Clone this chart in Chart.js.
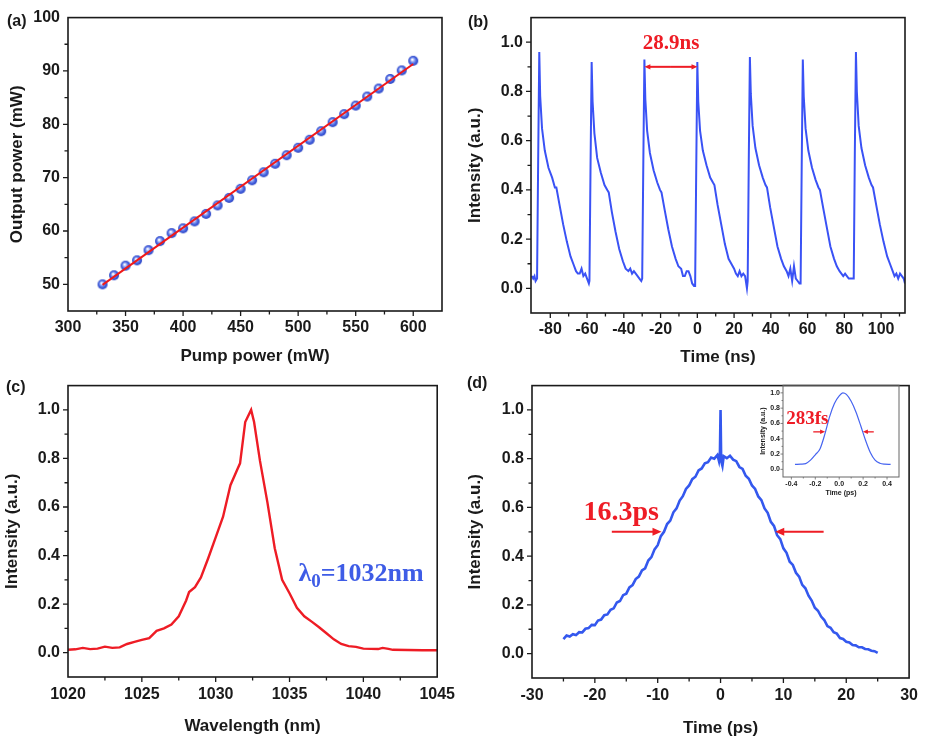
<!DOCTYPE html>
<html>
<head>
<meta charset="utf-8">
<title>Laser output characteristics</title>
<script src="https://cdn.jsdelivr.net/npm/chart.js@4.4.1/dist/chart.umd.min.js"></script>
<style>
  html, body { margin: 0; padding: 0; background: #fff; }
  #figure { position: relative; width: 926px; height: 740px; overflow: hidden; background: #fff; }
  #figure canvas { position: absolute; }
</style>
</head>
<body>
<div id="figure">
  <canvas id="chart_output_power" width="463" height="368" style="left:0;top:0"></canvas>
  <canvas id="chart_pulse_train" width="463" height="368" style="left:463px;top:0"></canvas>
  <canvas id="chart_spectrum" width="463" height="372" style="left:0;top:368px"></canvas>
  <canvas id="chart_autocorrelation" width="463" height="372" style="left:463px;top:368px"></canvas>
  <canvas id="chart_autocorrelation_inset" width="155" height="122" style="left:755px;top:378px"></canvas>
</div>
<script>
// (a) output power vs pump power
const pump_power = [330, 340, 350, 360, 370, 380, 390, 400, 410, 420, 430, 440, 450, 460, 470, 480, 490, 500, 510, 520, 530, 540, 550, 560, 570, 580, 590, 600];
const output_power = [50.0, 51.7, 53.5, 54.5, 56.4, 58.1, 59.6, 60.5, 61.8, 63.2, 64.8, 66.2, 67.9, 69.5, 71.0, 72.6, 74.2, 75.6, 77.1, 78.7, 80.4, 81.9, 83.5, 85.2, 86.7, 88.5, 90.1, 91.9];
const fit_pump = [330, 600];
const fit_output = [49.9, 91.3];

// (b) pulse train
const pulse_time = [
  -90.0, -89.3, -88.6, -88.0,
  -87.2, -86.6, -86.0, -85.5, -84.5, -83.0, -81.0, -79.0, -77.5, -76.7, -75.0, -73.0, -71.0, -69.0, -67.5, -66.0, -65.0, -64.0, -63.0, -62.0, -61.0, -60.0, -59.0,
  -58.7, -58.1, -57.5, -57.0, -56.0, -54.5, -52.5, -50.5, -49.0, -48.2, -46.5, -44.5, -42.5, -40.5, -39.0, -37.5, -36.5, -35.5, -34.5, -33.5, -32.5, -31.5, -30.5,
  -30.0, -29.4, -28.8, -28.3, -27.3, -25.8, -23.8, -21.8, -20.3, -19.5, -17.8, -15.8, -13.8, -11.8, -10.3, -8.8, -7.8, -6.8, -5.8, -4.8, -3.8, -2.8, -1.8,
  -1.2, -0.6, 0.0, 0.5, 1.5, 3.0, 5.0, 7.0, 8.5, 9.3, 11.0, 13.0, 15.0, 17.0, 18.5, 20.0, 21.0, 22.0, 23.0, 24.0, 25.0, 26.0, 27.0,
  27.4, 28.0, 28.6, 29.1, 30.1, 31.6, 33.6, 35.6, 37.1, 37.9, 39.6, 41.6, 43.6, 45.6, 47.1, 48.6, 49.6, 50.6, 51.6, 52.6, 53.6, 54.6, 55.6,
  56.2, 56.8, 57.4, 57.9, 58.9, 60.4, 62.4, 64.4, 65.9, 66.7, 68.4, 70.4, 72.4, 74.4, 75.9, 77.4, 78.4, 79.4, 80.4, 81.4, 82.4, 83.4, 84.4,
  85.1, 85.7, 86.3, 86.8, 87.8, 89.3, 91.3, 93.3, 94.8, 95.6, 97.3, 99.3, 101.3, 103.3, 104.8, 106.3, 107.3, 108.3, 109.3, 110.3, 111.3, 112.3, 113.0
];
const pulse_level = [
  0.05, 0.04, 0.05, 0.03,
  0.04, 0.52, 0.96, 0.78, 0.65, 0.56, 0.49, 0.45, 0.41, 0.41, 0.34, 0.26, 0.19, 0.13, 0.10, 0.07, 0.06, 0.06, 0.08, 0.05, 0.06, 0.04, 0.02,
  0.03, 0.50, 0.92, 0.76, 0.63, 0.53, 0.47, 0.42, 0.40, 0.39, 0.31, 0.23, 0.16, 0.11, 0.08, 0.07, 0.08, 0.06, 0.07, 0.06, 0.05, 0.04, 0.03,
  0.04, 0.50, 0.93, 0.77, 0.64, 0.55, 0.48, 0.43, 0.40, 0.39, 0.32, 0.24, 0.17, 0.12, 0.09, 0.08, 0.05, 0.05, 0.07, 0.07, 0.05, 0.02, 0.01,
  0.01, 0.48, 0.92, 0.76, 0.64, 0.56, 0.50, 0.45, 0.43, 0.42, 0.34, 0.26, 0.18, 0.12, 0.10, 0.08, 0.06, 0.05, 0.07, 0.05, 0.06, 0.05, 0.00,
  0.03, 0.52, 0.94, 0.79, 0.66, 0.57, 0.50, 0.45, 0.42, 0.41, 0.33, 0.25, 0.17, 0.12, 0.09, 0.07, 0.05, 0.08, 0.03, 0.09, 0.04, 0.03, 0.02,
  0.02, 0.50, 0.93, 0.78, 0.65, 0.56, 0.49, 0.44, 0.41, 0.40, 0.33, 0.25, 0.17, 0.12, 0.09, 0.07, 0.06, 0.05, 0.06, 0.05, 0.04, 0.04, 0.04,
  0.04, 0.55, 0.96, 0.80, 0.66, 0.57, 0.50, 0.45, 0.42, 0.41, 0.34, 0.26, 0.19, 0.13, 0.10, 0.07, 0.05, 0.06, 0.04, 0.06, 0.05, 0.04, 0.02
];

// (c) optical spectrum
const spectrum_wavelength = [1020, 1020.5, 1021, 1021.5, 1022, 1022.5, 1023, 1023.5, 1024, 1024.5, 1025, 1025.5, 1026, 1026.5, 1027, 1027.5, 1028, 1028.2, 1028.6, 1029, 1029.5, 1030, 1030.5, 1031, 1031.5, 1031.65, 1032.0, 1032.4, 1032.6, 1033, 1033.5, 1034, 1034.5, 1035, 1035.5, 1036, 1036.5, 1037, 1037.5, 1038, 1038.5, 1039, 1039.5, 1040, 1040.5, 1041, 1041.3, 1041.7, 1042, 1043, 1044, 1045];
const spectrum_intensity = [0.012, 0.014, 0.02, 0.015, 0.017, 0.025, 0.02, 0.022, 0.036, 0.045, 0.053, 0.06, 0.09, 0.10, 0.116, 0.15, 0.215, 0.25, 0.27, 0.31, 0.39, 0.475, 0.56, 0.69, 0.76, 0.78, 0.95, 1.0, 0.95, 0.79, 0.62, 0.43, 0.30, 0.245, 0.185, 0.15, 0.128, 0.105, 0.08, 0.055, 0.036, 0.027, 0.024, 0.017, 0.016, 0.015, 0.02, 0.016, 0.012, 0.011, 0.01, 0.01];

// (d) autocorrelation trace
const ac_delay = [-25, -24.5, -24, -23.5, -23, -22.5, -22, -21.5, -21, -20.5, -20, -19.5, -19, -18.5, -18, -17.5, -17, -16.5, -16, -15.5, -15, -14.5, -14, -13.5, -13, -12.5, -12, -11.5, -11, -10.5, -10, -9.5, -9, -8.5, -8, -7.5, -7, -6.5, -6, -5.5, -5, -4.5, -4, -3.5, -3, -2.5, -2, -1.5, -1, -0.5, -0.25, -0.1, 0, 0.1, 0.3, 0.5, 1, 1.5, 2, 2.5, 3, 3.5, 4, 4.5, 5, 5.5, 6, 6.5, 7, 7.5, 8, 8.5, 9, 9.5, 10, 10.5, 11, 11.5, 12, 12.5, 13, 13.5, 14, 14.5, 15, 15.5, 16, 16.5, 17, 17.5, 18, 18.5, 19, 19.5, 20, 20.5, 21, 21.5, 22, 22.5, 23, 23.5, 24, 24.5, 25];
const ac_intensity = [0.060, 0.074, 0.070, 0.080, 0.076, 0.088, 0.087, 0.102, 0.105, 0.118, 0.117, 0.136, 0.140, 0.158, 0.161, 0.180, 0.186, 0.210, 0.216, 0.240, 0.246, 0.272, 0.281, 0.306, 0.316, 0.342, 0.350, 0.382, 0.396, 0.428, 0.445, 0.482, 0.500, 0.532, 0.546, 0.580, 0.596, 0.628, 0.646, 0.676, 0.690, 0.716, 0.726, 0.752, 0.760, 0.781, 0.786, 0.805, 0.800, 0.815, 0.790, 0.820, 1.000, 0.790, 0.770, 0.810, 0.802, 0.812, 0.796, 0.790, 0.766, 0.758, 0.730, 0.718, 0.690, 0.676, 0.645, 0.630, 0.596, 0.578, 0.541, 0.524, 0.486, 0.470, 0.432, 0.414, 0.377, 0.364, 0.332, 0.316, 0.282, 0.268, 0.238, 0.218, 0.188, 0.176, 0.152, 0.138, 0.113, 0.106, 0.088, 0.082, 0.064, 0.060, 0.049, 0.046, 0.035, 0.034, 0.026, 0.026, 0.019, 0.018, 0.012, 0.010, 0.003];

// (d) inset, fine scan of the coherence spike
const inset_delay = [-0.37, -0.32, -0.28, -0.24, -0.20, -0.16, -0.12, -0.08, -0.04, 0.00, 0.03, 0.06, 0.10, 0.14, 0.18, 0.22, 0.26, 0.30, 0.34, 0.38, 0.43];
const inset_intensity = [0.065, 0.068, 0.075, 0.12, 0.19, 0.27, 0.46, 0.69, 0.86, 0.96, 1.0, 0.98, 0.89, 0.75, 0.57, 0.38, 0.22, 0.12, 0.08, 0.068, 0.065];

const RED = 'rgb(238, 28, 37)';
const BLUE = 'rgb(58, 82, 245)';
const INK = '#1a1a1a';
const SANS = "'Liberation Sans', Arial, sans-serif";
const SERIF = "'Liberation Serif', 'Times New Roman', serif";

Chart.defaults.font.family = SANS;
Chart.defaults.font.weight = 'bold';
Chart.defaults.color = INK;

const xy = (xs, ys) => xs.map((x, i) => ({ x: x, y: ys[i] }));
const on_step = (v, step) => Math.abs(v / step - Math.round(v / step)) < 1e-6;

// box round the plot area plus outward major/minor ticks
Chart.register({
    id: 'frame',
    afterDraw(chart, args, opts) {
        const { ctx, chartArea: a } = chart;
        ctx.save();
        ctx.strokeStyle = opts.color || INK;
        ctx.lineWidth = opts.width || 1.6;
        ctx.strokeRect(a.left, a.top, a.right - a.left, a.bottom - a.top);
        ctx.lineWidth = opts.tick_width || 1.3;
        ctx.beginPath();
        ['x', 'y'].forEach(id => {
            const scale = chart.scales[id];
            scale.ticks.forEach(t => {
                const px = scale.getPixelForValue(t.value);
                const len = t.label !== '' ? (opts.major || 5) : (opts.minor || 3.5);
                if (id === 'x') {
                    if (px < a.left + 1 || px > a.right - 1) return;
                    ctx.moveTo(px, a.bottom); ctx.lineTo(px, a.bottom + len);
                } else {
                    if (px < a.top + 1 || px > a.bottom - 1) return;
                    ctx.moveTo(a.left, px); ctx.lineTo(a.left - len, px);
                }
            });
        });
        ctx.stroke();
        ctx.restore();
    }
});

function axis(o) {
    return {
        type: 'linear',
        min: o.min,
        max: o.max,
        afterFit: scale => { if (scale.isHorizontal()) scale.height = o.size; else scale.width = o.size; },
        // keep only ticks that sit on the step grid, inside the fixed range
        afterBuildTicks: scale => {
            const first = Math.ceil(o.min / o.step - 1e-6), last = Math.floor(o.max / o.step + 1e-6);
            const ticks = [];
            for (let k = first; k <= last; k++) ticks.push({ value: Math.round(k * o.step * 1000) / 1000 });
            scale.ticks = ticks;
        },
        grid: { display: false, drawTicks: false },
        border: { display: false },
        ticks: {
            stepSize: o.step,
            autoSkip: false,
            maxRotation: 0,
            padding: o.pad,
            color: INK,
            font: { size: o.font || 16, weight: 'bold' },
            callback: v => on_step(v, o.major) ? (Math.abs(v) < 1e-9 ? 0 : v).toFixed(o.digits || 0) : ''
        },
        title: {
            display: true,
            text: o.title,
            color: INK,
            font: { size: o.title_size || 17, weight: 'bold' },
            padding: o.title_pad
        }
    };
}

function base_options(o) {
    return {
        responsive: false,
        animation: false,
        devicePixelRatio: 1,
        layout: { padding: { top: o.top, right: o.right, left: 0, bottom: 0 } },
        plugins: {
            legend: { display: false },
            tooltip: { enabled: false },
            frame: o.frame || {}
        },
        elements: { line: { tension: 0 }, point: { radius: 0 } },
        scales: { x: axis(o.x), y: axis(o.y) }
    };
}

function notes(id, draw) {
    return {
        id: id,
        afterDraw(chart) {
            const ctx = chart.ctx;
            ctx.save();
            draw(chart, ctx);
            ctx.restore();
        }
    };
}

function panel_letter(ctx, text, x, y) {
    ctx.font = "bold 16px " + SANS;
    ctx.fillStyle = INK;
    ctx.textAlign = 'left';
    ctx.textBaseline = 'middle';
    ctx.fillText(text, x, y);
}

function arrow(ctx, x1, y, x2, head, width) {
    const dir = Math.sign(x2 - x1);
    ctx.strokeStyle = RED;
    ctx.fillStyle = RED;
    ctx.lineWidth = width;
    ctx.beginPath();
    ctx.moveTo(x1, y);
    ctx.lineTo(x2 - dir * head * 0.8, y);
    ctx.stroke();
    ctx.beginPath();
    ctx.moveTo(x2, y);
    ctx.lineTo(x2 - dir * head, y - head * 0.45);
    ctx.lineTo(x2 - dir * head, y + head * 0.45);
    ctx.closePath();
    ctx.fill();
}

function sphere_marker(r) {
    const c = document.createElement('canvas');
    c.width = c.height = 2 * r + 2;
    const g = c.getContext('2d');
    const m = r + 1;
    const grad = g.createRadialGradient(m - r * 0.2, m - r * 0.25, r * 0.1, m, m, r);
    grad.addColorStop(0, '#ffffff');
    grad.addColorStop(0.3, '#9aaaf2');
    grad.addColorStop(0.65, '#4563e0');
    grad.addColorStop(1, '#2b43c2');
    g.fillStyle = grad;
    g.beginPath();
    g.arc(m, m, r, 0, Math.PI * 2);
    g.fill();
    return c;
}

let figure =
{
    init()
    {
        this.print_chart_output_power();
        this.print_chart_pulse_train();
        this.print_chart_spectrum();
        this.print_chart_autocorrelation();
        this.print_chart_autocorrelation_inset();
    },

    print_chart_output_power() {
        new Chart(document.getElementById("chart_output_power"), {
            type: "scatter",
            data: {
                datasets: [
                    { data: xy(fit_pump, fit_output), showLine: true, borderColor: 'rgb(240, 25, 25)', borderWidth: 2, pointRadius: 0 },
                    { data: xy(pump_power, output_power), showLine: false, pointStyle: sphere_marker(5), pointRadius: 5 }
                ]
            },
            options: base_options({
                top: 10, right: 21,
                x: { min: 300, max: 625, step: 25, major: 50, size: 57, pad: 7, title: 'Pump power (mW)', title_pad: 1 },
                y: { min: 45, max: 100, step: 5, major: 10, size: 68, pad: 8, title: 'Output power (mW)', title_pad: 7 }
            }),
            plugins: [notes('notes_a', (chart, ctx) => panel_letter(ctx, '(a)', 7, 22))]
        });
    },

    print_chart_pulse_train() {
        new Chart(document.getElementById("chart_pulse_train"), {
            type: "scatter",
            data: {
                datasets: [
                    { data: xy(pulse_time, pulse_level), showLine: true, borderColor: BLUE, borderWidth: 2, pointRadius: 0 }
                ]
            },
            options: base_options({
                top: 12, right: 21,
                x: { min: -90.5, max: 113, step: 10, major: 20, size: 55, pad: 7, title: 'Time (ns)', title_pad: 0 },
                y: { min: -0.1, max: 1.1, step: 0.1, major: 0.2, digits: 1, size: 68, pad: 8, title: 'Intensity (a.u.)', title_pad: 2 }
            }),
            plugins: [notes('notes_b', (chart, ctx) => {
                panel_letter(ctx, '(b)', 5, 23);
                const sx = chart.scales.x, sy = chart.scales.y;
                const y = sy.getPixelForValue(0.9);
                const left = sx.getPixelForValue(-28.8), right = sx.getPixelForValue(0.1);
                const mid = (left + right) / 2;
                arrow(ctx, mid, y, left, 6, 2);
                arrow(ctx, mid, y, right, 6, 2);
                ctx.font = "bold 21px " + SERIF;
                ctx.fillStyle = RED;
                ctx.textAlign = 'center';
                ctx.textBaseline = 'alphabetic';
                ctx.fillText('28.9ns', sx.getPixelForValue(-14.3), sy.getPixelForValue(0.971));
            })]
        });
    },

    print_chart_spectrum() {
        new Chart(document.getElementById("chart_spectrum"), {
            type: "scatter",
            data: {
                datasets: [
                    { data: xy(spectrum_wavelength, spectrum_intensity), showLine: true, borderColor: RED, borderWidth: 2.4, pointRadius: 0 }
                ]
            },
            options: base_options({
                top: 8, right: 22,
                x: { min: 1020, max: 1045, step: 2.5, major: 5, size: 63, pad: 8, title: 'Wavelength (nm)', title_pad: 3 },
                y: { min: -0.1, max: 1.1, step: 0.1, major: 0.2, digits: 1, size: 68, pad: 8, title: 'Intensity (a.u.)', title_pad: 2 }
            }),
            plugins: [notes('notes_c', (chart, ctx) => {
                panel_letter(ctx, '(c)', 6, 20);
                const sx = chart.scales.x, sy = chart.scales.y;
                let x = sx.getPixelForValue(1035.6);
                const base = sy.getPixelForValue(0.295);
                ctx.fillStyle = 'rgb(62, 92, 230)';
                ctx.textAlign = 'left';
                ctx.textBaseline = 'alphabetic';
                ctx.font = "bold 26px " + SERIF;
                ctx.fillText('λ', x, base);
                x += ctx.measureText('λ').width;
                ctx.font = "bold 19px " + SERIF;
                ctx.fillText('0', x, base + 6);
                x += ctx.measureText('0').width;
                ctx.font = "bold 26px " + SERIF;
                ctx.fillText('=1032nm', x, base);
            })]
        });
    },

    print_chart_autocorrelation() {
        new Chart(document.getElementById("chart_autocorrelation"), {
            type: "scatter",
            data: {
                datasets: [
                    { data: xy(ac_delay, ac_intensity), showLine: true, borderColor: 'rgb(52, 88, 238)', borderWidth: 2.6, pointRadius: 0 }
                ]
            },
            options: base_options({
                top: 4, right: 13,
                x: { min: -30, max: 30, step: 5, major: 10, size: 62, pad: 8, title: 'Time (ps)', title_pad: 1 },
                y: { min: -0.1, max: 1.1, step: 0.1, major: 0.2, digits: 1, size: 69, pad: 8, title: 'Intensity (a.u.)', title_pad: 2 }
            }),
            plugins: [notes('notes_d', (chart, ctx) => {
                panel_letter(ctx, '(d)', 4, 16);
                const sx = chart.scales.x, sy = chart.scales.y;
                const y = sy.getPixelForValue(0.5);
                arrow(ctx, sx.getPixelForValue(-17.3), y, sx.getPixelForValue(-9.4), 9, 2);
                arrow(ctx, sx.getPixelForValue(16.4), y, sx.getPixelForValue(8.7), 9, 2);
                ctx.font = "bold 28px " + SERIF;
                ctx.fillStyle = RED;
                ctx.textAlign = 'center';
                ctx.textBaseline = 'alphabetic';
                ctx.fillText('16.3ps', sx.getPixelForValue(-15.8), sy.getPixelForValue(0.55));
            })]
        });
    },

    print_chart_autocorrelation_inset() {
        new Chart(document.getElementById("chart_autocorrelation_inset"), {
            type: "scatter",
            data: {
                datasets: [
                    { data: xy(inset_delay, inset_intensity), showLine: true, borderColor: 'rgb(70, 100, 240)', borderWidth: 1.2, pointRadius: 0, cubicInterpolationMode: 'monotone' }
                ]
            },
            options: base_options({
                top: 6, right: 11,
                frame: { color: '#666', width: 1, tick_width: 0.8, major: 2.5, minor: 1.5 },
                x: { min: -0.47, max: 0.5, step: 0.1, major: 0.2, digits: 1, size: 23, pad: 3, font: 7, title: 'Time (ps)', title_size: 7, title_pad: 3 },
                y: { min: -0.1, max: 1.1, step: 0.1, major: 0.2, digits: 1, size: 28, pad: 3, font: 7, title: 'Intensity (a.u.)', title_size: 7, title_pad: 4 }
            }),
            plugins: [notes('notes_inset', (chart, ctx) => {
                const sx = chart.scales.x, sy = chart.scales.y;
                const y = sy.getPixelForValue(0.49);
                arrow(ctx, sx.getPixelForValue(-0.217), y, sx.getPixelForValue(-0.118), 5, 1.3);
                arrow(ctx, sx.getPixelForValue(0.289), y, sx.getPixelForValue(0.198), 5, 1.3);
                ctx.font = "bold 19px " + SERIF;
                ctx.fillStyle = RED;
                ctx.textAlign = 'center';
                ctx.textBaseline = 'alphabetic';
                ctx.fillText('283fs', sx.getPixelForValue(-0.267), sy.getPixelForValue(0.593));
            })]
        });
    },
}

figure.init();
</script>
</body>
</html>
